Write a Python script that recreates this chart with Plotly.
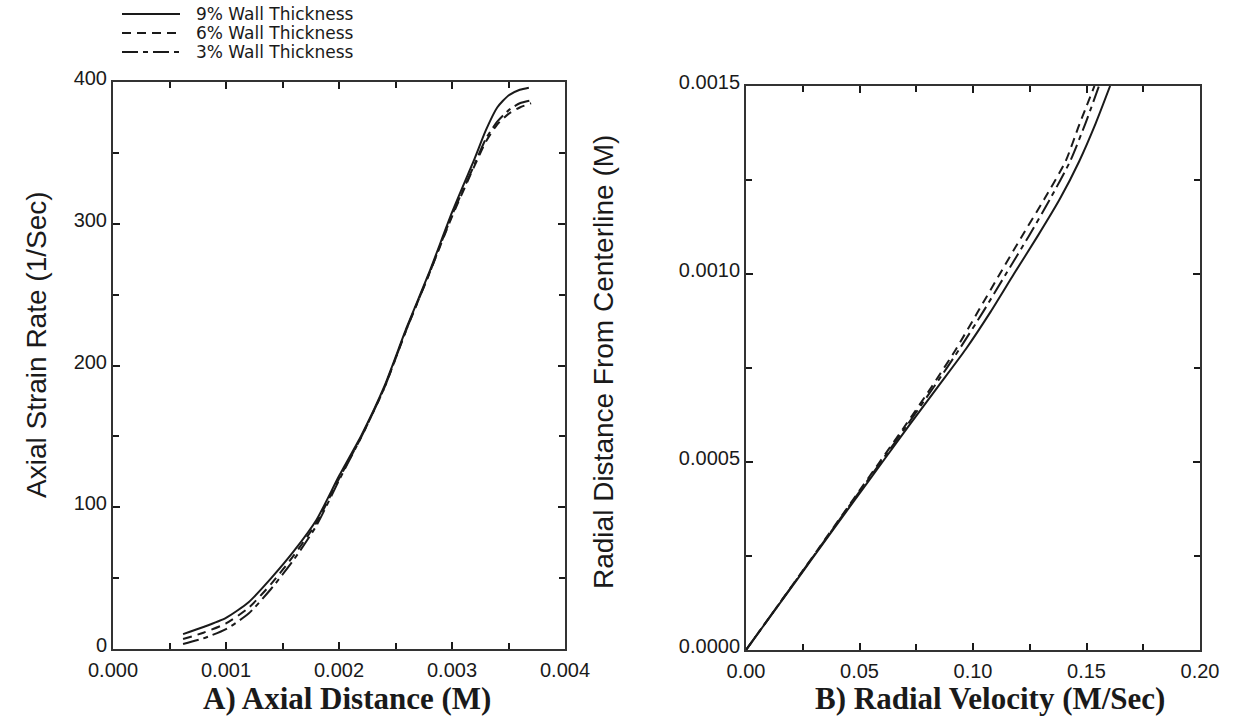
import plotly.graph_objects as go

# ---------------- data ----------------
series_names = ["9% Wall Thickness", "6% Wall Thickness", "3% Wall Thickness"]

# Panel A: axial strain rate (1/Sec) vs axial distance (M)
axial_x_9 = [0.00062, 0.0008, 0.0010, 0.0012, 0.0014, 0.0016, 0.0018, 0.0020, 0.0022, 0.0024,
             0.0026, 0.0028, 0.0030, 0.0032, 0.0033, 0.0034, 0.0035, 0.0036, 0.00368]
strain_9 = [10.5, 15.5, 22, 33, 50, 69, 91, 122, 151, 185,
            227, 266, 308, 346, 366, 382, 390.5, 394.5, 396]

axial_x_6 = [0.00062, 0.0008, 0.0010, 0.0012, 0.0014, 0.0016, 0.0018, 0.0020, 0.0022, 0.0024,
             0.0026, 0.0028, 0.0030, 0.0032, 0.0033, 0.0034, 0.0035, 0.0036, 0.0037]
strain_6 = [7, 11.5, 18, 29, 46, 66, 89, 120, 150, 184,
            226, 265, 305, 341, 358, 370, 377.5, 382, 385]

axial_x_3 = [0.00062, 0.0008, 0.0010, 0.0012, 0.0014, 0.0016, 0.0018, 0.0020, 0.0022, 0.0024,
             0.0026, 0.0028, 0.0030, 0.0032, 0.0033, 0.0034, 0.0035, 0.0036, 0.0037]
strain_3 = [3.5, 7.5, 14, 25, 42.5, 63, 87, 119, 150, 184,
            226, 265, 306, 342, 360, 372, 380, 385, 387]

# Panel B: radial distance from centerline (M) vs radial velocity (M/Sec)
radial_r = [0.0, 0.0001, 0.0002, 0.0003, 0.0004, 0.0005, 0.0006, 0.0007,
            0.0008, 0.0009, 0.0010, 0.0011, 0.0012, 0.0013, 0.0014, 0.0015]
velocity_9 = [0, 0.0120, 0.0240, 0.0360, 0.0480, 0.0601, 0.0722, 0.0845,
              0.0968, 0.1078, 0.1180, 0.1284, 0.1383, 0.1468, 0.1540, 0.1604]
velocity_6 = [0, 0.0119, 0.0237, 0.0355, 0.0472, 0.0589, 0.0705, 0.0818,
              0.0925, 0.1022, 0.1118, 0.1215, 0.1315, 0.1408, 0.1470, 0.1535]
velocity_3 = [0, 0.0119, 0.0238, 0.0357, 0.0475, 0.0594, 0.0712, 0.0828,
              0.0940, 0.1045, 0.1145, 0.1245, 0.1340, 0.1428, 0.1495, 0.1555]

# ---------------- styling ----------------
W, H = 1236, 719
INK = "#1a1a1a"
dash_styles = ["solid", "9px,6px", "16px,5px,5px,5px"]
TICK_FONT = dict(family="Liberation Sans, Arial, sans-serif", size=20, color=INK)
YTITLE_FONT = dict(family="Liberation Sans, Arial, sans-serif", size=28, color=INK)
XTITLE_FONT = dict(family="Liberation Serif, Times New Roman, serif", size=31, color=INK)

fig = go.Figure()

panel_a = [(axial_x_9, strain_9), (axial_x_6, strain_6), (axial_x_3, strain_3)]
for (xs, ys), name, dash in zip(panel_a, series_names, dash_styles):
    fig.add_trace(go.Scatter(x=xs, y=ys, mode="lines", name=name, showlegend=False,
                             line=dict(color=INK, width=2, dash=dash, shape="spline", smoothing=0.6),
                             xaxis="x", yaxis="y"))

panel_b = [velocity_9, velocity_6, velocity_3]
for vs, name, dash in zip(panel_b, series_names, dash_styles):
    fig.add_trace(go.Scatter(x=vs, y=radial_r, mode="lines", name=name, showlegend=False,
                             line=dict(color=INK, width=2, dash=dash, shape="spline", smoothing=0.6),
                             xaxis="x2", yaxis="y2"))


def axis(domain, rng, dtick, minor_dtick, fmt, anchor, **extra):
    spec = dict(domain=domain, range=rng, dtick=dtick, tick0=0, tickformat=fmt,
                ticks="inside", ticklen=7, tickwidth=2, tickcolor=INK,
                minor=dict(dtick=minor_dtick, tick0=0, ticks="inside", ticklen=6,
                           tickwidth=2, tickcolor=INK, showgrid=False),
                showline=True, linewidth=2, linecolor="#333333", mirror="ticks",
                showgrid=False, zeroline=False, tickfont=TICK_FONT, anchor=anchor,
                automargin=False, fixedrange=True)
    spec.update(extra)
    return spec


fig.update_layout(
    template="none",
    width=W, height=H, autosize=False,
    margin=dict(l=0, r=0, t=0, b=0, pad=0),
    paper_bgcolor="white", plot_bgcolor="white",
    xaxis=axis([113 / W, 565 / W], [0, 0.004], 0.001, 0.0005, ".3f", "y", ticklabelstandoff=2),
    yaxis=axis([1 - 649 / H, 1 - 82 / H], [0, 400], 100, 50, "d", "x", ticklabelshift=-4),
    xaxis2=axis([746 / W, 1200 / W], [0, 0.2], 0.05, 0.025, ".2f", "y2", ticklabelstandoff=2),
    yaxis2=axis([1 - 650 / H, 1 - 86 / H], [0, 0.0015], 0.0005, 0.00025, ".4f", "x2",
                ticklabelshift=-4),
)

annotations = [
    dict(text="<b>A) Axial Distance (M)</b>", x=347 / W, y=1 - 698 / H, font=XTITLE_FONT),
    dict(text="<b>B) Radial Velocity (M/Sec)</b>", x=990 / W, y=1 - 698 / H, font=XTITLE_FONT),
    dict(text="Axial Strain Rate (1/Sec)", x=36 / W, y=1 - 345 / H, textangle=-90, font=YTITLE_FONT),
    dict(text="Radial Distance From Centerline (M)", x=603 / W, y=1 - 362 / H, textangle=-90,
         font=YTITLE_FONT),
]
for a in annotations:
    a.update(xref="paper", yref="paper", showarrow=False, xanchor="center", yanchor="middle",
             borderpad=0)

# key in the upper-left corner: line sample plus label for each series
key_rows = [14, 33, 52]
shapes = []
for name, dash, row in zip(series_names, dash_styles, key_rows):
    shapes.append(dict(type="line", xref="paper", yref="paper",
                       x0=122 / W, x1=180 / W, y0=1 - row / H, y1=1 - row / H,
                       line=dict(color=INK, width=2, dash=dash)))
    annotations.append(dict(text=name, xref="paper", yref="paper", x=195 / W, y=1 - row / H,
                            xanchor="left", yanchor="middle", showarrow=False, borderpad=0,
                            font=dict(family="DejaVu Sans, sans-serif", size=17, color=INK)))

fig.update_layout(annotations=annotations, shapes=shapes)

fig.write_html("out.html")
